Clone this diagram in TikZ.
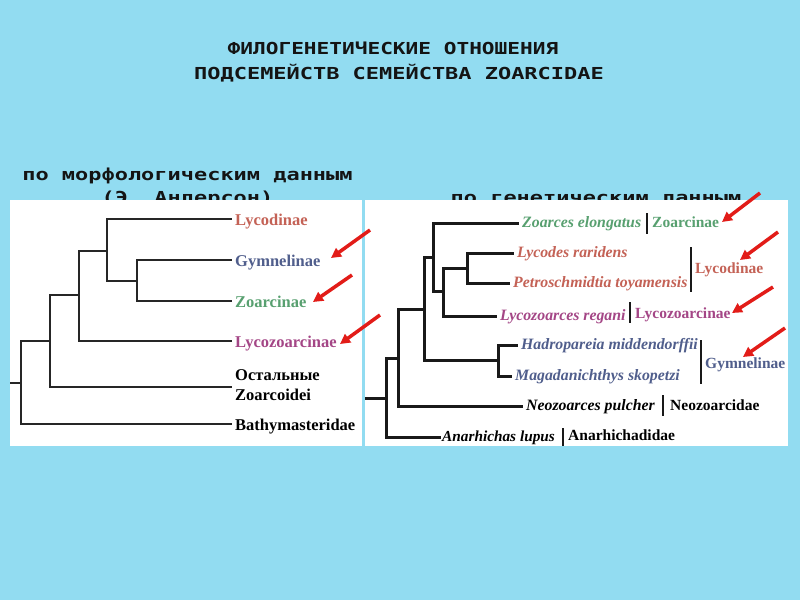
\documentclass[tikz,border=0pt]{standalone}
\usepackage{fontspec}
\setmainfont{Liberation Serif}
\newfontfamily\ttl{DejaVu Sans Mono Bold}[FakeStretch=1.28]
\newfontfamily\ttm{DejaVu Sans Mono Bold}[FakeStretch=1.33]
\usetikzlibrary{arrows.meta}
\definecolor{bg}{RGB}{146,220,241}
\definecolor{cred}{RGB}{196,98,86}
\definecolor{cblue}{RGB}{80,94,140}
\definecolor{cgreen}{RGB}{88,160,112}
\definecolor{cpurp}{RGB}{164,70,134}
\definecolor{arr}{RGB}{226,28,24}
\begin{document}
\begin{tikzpicture}[x=1pt,y=-1pt,
  hdr/.style={font=\ttl\fontsize{16.5}{22.5}\selectfont, align=center, inner sep=0pt, text=black!92},
  sub/.style={font=\ttm\fontsize{16.5}{22.5}\selectfont, align=center, inner sep=0pt, text=black!92},
  panel/.style={fill=white, draw=none},
  ltree/.style={line width=1.8pt, black!85},
  rtree/.style={line width=3pt, black!90},
  lleaf/.style={anchor=west, inner xsep=3pt, inner ysep=0pt, text height=12pt, text depth=0pt, font=\bfseries\fontsize{16.5}{20}\selectfont},
  rleaf/.style={anchor=west, inner xsep=3pt, inner ysep=0pt, text height=10pt, text depth=2pt, font=\bfseries\itshape\fontsize{15.8}{18}\selectfont},
  grp/.style={anchor=base west, inner sep=0pt, font=\bfseries\fontsize{15.5}{18}\selectfont},
  bar/.style={line width=2.5pt, black!90},
  redarrow/.style={line width=3.5pt, arr, -{Triangle[length=10pt,width=10pt]}}
]
\useasboundingbox (0,0) rectangle (800,600);
\fill[bg] (0,0) rectangle (800,600);

% headings
\node[hdr] (title1) at (393,48) {ФИЛОГЕНЕТИЧЕСКИЕ ОТНОШЕНИЯ};
\node[sub] (title2) at (399,73) {ПОДСЕМЕЙСТВ СЕМЕЙСТВА ZOARCIDAE};
\node[sub, anchor=base] (morph) at (187.5,203) {по морфологическим данным\\(Э. Андерсон)};
\node[sub, anchor=base] (gen) at (596,203) {по генетическим данным};

% panels
\fill[panel] (10,200) rectangle (362,446);
\fill[panel] (365,200) rectangle (788,446);

% ---------- left tree ----------
\coordinate (lroot) at (10,383);
\coordinate (l1) at (21,383);
\coordinate (l2) at (50,341);
\coordinate (l3) at (79,295);
\coordinate (l4) at (107,251);
\coordinate (l5) at (137,281);

\node[lleaf, text=cred] (llyc) at (232,219) {Lycodinae};
\node[lleaf, text=cblue] (lgym) at (232,260) {Gymnelinae};
\node[lleaf, text=cgreen] (lzoa) at (232,301) {Zoarcinae};
\node[lleaf, text=cpurp] (llzo) at (232,341) {Lycozoarcinae};
\node[anchor=west, inner xsep=3pt, inner ysep=0pt, align=left, font=\bfseries\fontsize{16.5}{20}\selectfont] (lost) at (232,385) {Остальные\\Zoarcoidei};
\node[lleaf] (lbat) at (232,424) {Bathymasteridae};

\draw[ltree] (lroot) -- (l1);
\draw[ltree] (l1) |- (lbat.west);
\draw[ltree] (l1) |- (l2);
\draw[ltree] (l2) |- ([yshift=-2pt]lost.west);
\draw[ltree] (l2) |- (l3);
\draw[ltree] (l3) |- (llzo.west);
\draw[ltree] (l3) |- (l4);
\draw[ltree] (l4) |- (llyc.west);
\draw[ltree] (l4) |- (l5);
\draw[ltree] (l5) |- (lgym.west);
\draw[ltree] (l5) |- (lzoa.west);

% ---------- right tree ----------
\coordinate (rroot) at (365,398);
\coordinate (r1) at (386,398);
\coordinate (r2) at (398,358);
\coordinate (r3) at (424,309);
\coordinate (r4) at (498,360);
\coordinate (r5) at (433,257);
\coordinate (r6) at (443,291);
\coordinate (r7) at (467,268);

\node[rleaf, text=cgreen] (zel) at (519,223) {Zoarces elongatus};
\node[rleaf, text=cred] (lra) at (514,253) {Lycodes raridens};
\node[rleaf, text=cred] (pet) at (510,283) {Petroschmidtia toyamensis};
\node[rleaf, text=cpurp] (lre) at (497,316) {Lycozoarces regani};
\node[rleaf, text=cblue] (had) at (518,345) {Hadropareia middendorffii};
\node[rleaf, text=cblue] (mag) at (512,376) {Magadanichthys skopetzi};
\node[rleaf] (neo) at (523,406) {Neozoarces pulcher};
\node[rleaf, inner xsep=1pt, font=\bfseries\itshape\fontsize{15.3}{18}\selectfont] (ana) at (441,437) {Anarhichas lupus};

\draw[rtree] (rroot) -- (r1);
\draw[rtree] (r1) |- (ana.west);
\draw[rtree] (r1) |- (r2);
\draw[rtree] (r2) |- (neo.west);
\draw[rtree] (r2) |- (r3);
\draw[rtree] (r3) |- (r4);
\draw[rtree] (r3) |- (r5);
\draw[rtree] (r4) |- (had.west);
\draw[rtree] (r4) |- (mag.west);
\draw[rtree] (r5) |- (zel.west);
\draw[rtree] (r5) |- (r6);
\draw[rtree] (r6) |- (r7);
\draw[rtree] (r6) |- (lre.west);
\draw[rtree] (r7) |- (lra.west);
\draw[rtree] (r7) |- (pet.west);

% bars and group labels
\draw[bar] (647,213) -- (647,234);
\node[grp, text=cgreen] (gzoa) at (652,227) {Zoarcinae};
\draw[bar] (691,247) -- (691,292);
\node[grp, text=cred] (glyc) at (695,273) {Lycodinae};
\draw[bar] (630,302) -- (630,323);
\node[grp, text=cpurp] (glzo) at (635,318) {Lycozoarcinae};
\draw[bar] (701,340) -- (701,384);
\node[grp, text=cblue] (ggym) at (705,368) {Gymnelinae};
\draw[bar] (663,395) -- (663,416);
\node[grp] (gneo) at (670,410) {Neozoarcidae};
\draw[bar] (563,428) -- (563,446);
\node[grp] (gana) at (568,440) {Anarhichadidae};

% ---------- red arrows ----------
\coordinate (a1s) at (370,230); \coordinate (a1e) at (331,258);
\coordinate (a2s) at (352,275); \coordinate (a2e) at (313,302);
\coordinate (a3s) at (380,315); \coordinate (a3e) at (340,344);
\coordinate (b1s) at (760,193); \coordinate (b1e) at (722,222);
\coordinate (b2s) at (778,232); \coordinate (b2e) at (740,260);
\coordinate (b3s) at (773,287); \coordinate (b3e) at (732,313);
\coordinate (b4s) at (785,328); \coordinate (b4e) at (743,357);
\foreach \p in {a1,a2,a3,b1,b2,b3,b4}
  \draw[redarrow] (\p s) -- (\p e);
\end{tikzpicture}
\end{document}
